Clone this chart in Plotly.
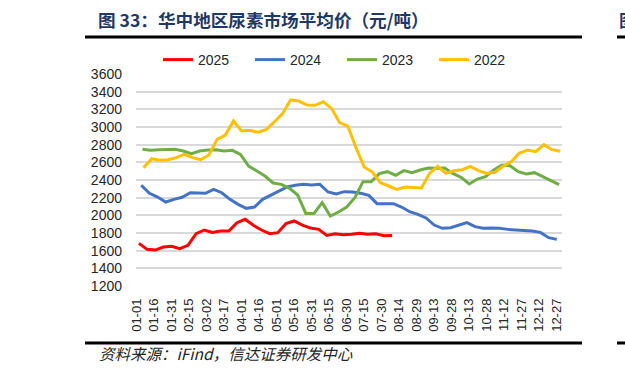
import pandas as pd
import plotly.graph_objects as go

# ---------------- data ----------------
tick_labels = ["01-01", "01-16", "01-31", "02-15", "03-02", "03-17", "04-01", "04-16",
               "05-01", "05-16", "05-31", "06-15", "06-30", "07-15", "07-30", "08-14",
               "08-29", "09-13", "09-28", "10-13", "10-28", "11-12", "11-27", "12-12", "12-27"]

series_names = ["2025", "2024", "2023", "2022"]
series_colors = ["#FF0000", "#4472C4", "#70AD47", "#FFC000"]
series_start = ["2025-01-03", "2024-01-05", "2023-01-06", "2022-01-07"]  # weekly (Friday) data

values_2025 = [1683, 1615, 1607, 1641, 1649, 1622, 1660, 1792, 1834, 1807, 1822, 1822,
               1917, 1955, 1887, 1834, 1792, 1804, 1906, 1936, 1890, 1856, 1841, 1773,
               1792, 1781, 1785, 1796, 1785, 1792, 1770, 1773]

values_2024 = [2340, 2249, 2207, 2151, 2181, 2204, 2256, 2256, 2249, 2294, 2256, 2181,
               2124, 2079, 2094, 2181, 2226, 2275, 2321, 2340, 2351, 2343, 2351, 2264,
               2241, 2268, 2264, 2249, 2226, 2132, 2132, 2132, 2094, 2041, 2011, 1970,
               1890, 1853, 1860, 1890, 1917, 1872, 1853, 1856, 1853, 1841, 1834, 1830,
               1823, 1807, 1747, 1728]

values_2023 = [2747, 2736, 2743, 2747, 2747, 2728, 2698, 2728, 2740, 2743, 2728, 2736,
               2690, 2558, 2502, 2445, 2366, 2351, 2306, 2230, 2022, 2022, 2143, 1992,
               2038, 2094, 2200, 2381, 2381, 2472, 2494, 2453, 2506, 2483, 2513, 2536,
               2532, 2536, 2475, 2430, 2355, 2411, 2438, 2513, 2570, 2562, 2494, 2468,
               2483, 2441, 2392, 2347]

values_2022 = [2540, 2641, 2623, 2630, 2653, 2690, 2653, 2630, 2683, 2860, 2909, 3068,
               2955, 2962, 2940, 2970, 3057, 3151, 3306, 3294, 3249, 3245, 3287, 3211,
               3049, 3011, 2766, 2547, 2490, 2370, 2332, 2294, 2321, 2313, 2309, 2475,
               2555, 2475, 2506, 2517, 2555, 2506, 2475, 2487, 2555, 2607, 2706, 2740,
               2721, 2800, 2743, 2725]

series_values = [values_2025, values_2024, values_2023, values_2022]

y_ticks = list(range(1200, 3601, 200))

# ---------------- helpers ----------------
BASE = pd.Timestamp("2023-01-01")  # non-leap reference calendar for the MM-DD axis


def mmdd_index(mmdd):
    return (pd.Timestamp("2023-" + mmdd) - BASE).days


W, H = 625, 374
ML, MR, MT, MB = 136, 63, 74, 88
PW, PH = W - ML - MR, H - MT - MB


def px(x):
    return (x - ML) / PW


def py(y):
    return 1 - (y - MT) / PH


fig = go.Figure()
for name, color, start, vals in zip(series_names, series_colors, series_start, series_values):
    dates = pd.date_range(start, periods=len(vals), freq="7D")
    xs = [mmdd_index(d.strftime("%m-%d")) for d in dates]
    fig.add_trace(go.Scatter(x=xs, y=vals, mode="lines", name=name,
                             line=dict(color=color, width=3)))

tick_vals = [mmdd_index(t) for t in tick_labels]

fig.update_layout(
    width=W, height=H,
    margin=dict(l=ML, r=MR, t=MT, b=MB, pad=0),
    paper_bgcolor="white", plot_bgcolor="white",
    font=dict(family="Liberation Sans, Arial, sans-serif", size=14, color="#262626"),
    showlegend=True,
    legend=dict(orientation="h", x=px(158), xanchor="left", y=py(60), yanchor="middle",
                font=dict(size=14, color="#262626"), entrywidth=47, itemwidth=30,
                bgcolor="rgba(0,0,0,0)", borderwidth=0, tracegroupgap=0),
    xaxis=dict(range=[-0.5, 364.5], tickmode="array", tickvals=tick_vals, ticktext=tick_labels,
               tickangle=-90, showgrid=False, zeroline=False, showline=False, ticks="",
               tickfont=dict(size=13, color="#262626"), ticklabelstandoff=9),
    yaxis=dict(range=[1200, 3600], tickmode="array", tickvals=y_ticks,
               showgrid=True, gridcolor="#D9D9D9", gridwidth=1.5, zeroline=False,
               showline=False, ticks="", tickfont=dict(size=14, color="#262626"),
               ticklabelstandoff=13),
)

# title, rules and source
fig.add_annotation(text="<b>图 33：华中地区尿素市场平均价（元/吨）</b>", xref="paper", yref="paper",
                   x=px(96), y=py(20), xanchor="left", yanchor="middle", showarrow=False,
                   font=dict(family="Noto Sans CJK SC", size=17.6, color="#1F3864"))
fig.add_annotation(text="<b>图</b>", xref="paper", yref="paper",
                   x=px(617), y=py(20), xanchor="left", yanchor="middle", showarrow=False,
                   font=dict(family="Noto Sans CJK SC", size=17.6, color="#1F3864"))
fig.add_annotation(text="<i>资料来源：iFind，信达证券研发中心</i>", xref="paper", yref="paper",
                   x=px(97), y=py(353), xanchor="left", yanchor="middle", showarrow=False,
                   font=dict(family="Noto Sans CJK SC", size=15.5, color="#262626"))

for (x0, x1, y) in [(85, 582, 37), (617, 625, 37), (85, 582, 343), (617, 625, 343)]:
    fig.add_shape(type="line", xref="paper", yref="paper", x0=px(x0), x1=px(x1),
                  y0=py(y), y1=py(y), line=dict(color="black", width=3))

fig.write_html("out.html", config={"displayModeBar": False},
               post_script="document.body.style.margin='0px';")
